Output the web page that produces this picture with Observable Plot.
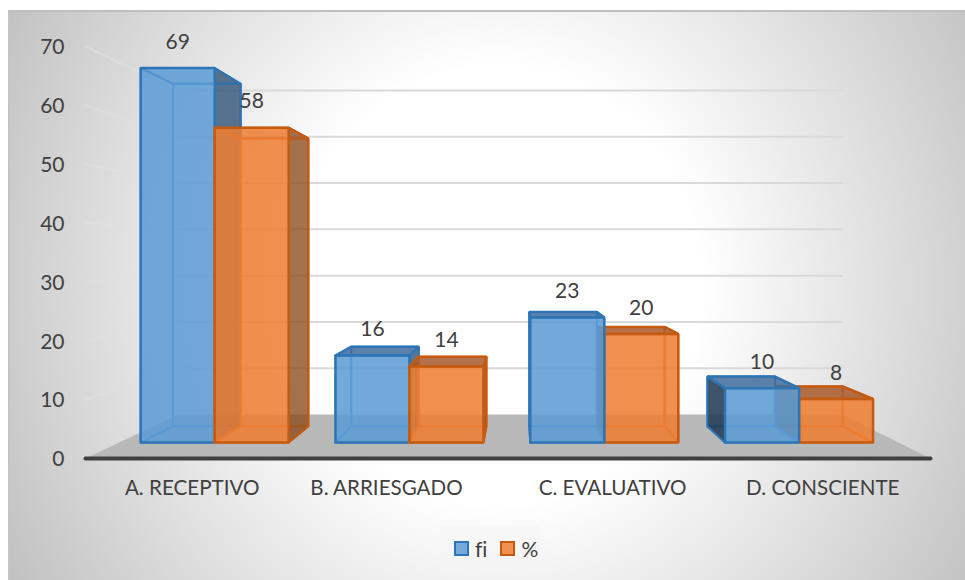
<!DOCTYPE html>
<html>
<head>
<meta charset="utf-8">
<script src="https://cdn.jsdelivr.net/npm/d3@7"></script>
<script src="https://cdn.jsdelivr.net/npm/@observablehq/plot@0.6"></script>
<style>
  html, body { margin: 0; padding: 0; background: #fff; width: 965px; height: 580px; overflow: hidden; }
  #bg { position: absolute; left: 8px; top: 10px; width: 957px; height: 570px; box-sizing: border-box;
        border-top: 2px solid #bfbfbf; border-left: 2px solid #c4c4c4;
        background: radial-gradient(ellipse 580px 620px at 51% 48%, #fff 35%, #bdbdbd 100%); }
  #chart { position: absolute; left: 0; top: 0; width: 965px; height: 580px; font-family: Lato, sans-serif; color: #404040; font-variant-ligatures: none; }
  #chart svg { display: block; background: transparent; }
  #legend { position: absolute; left: 441px; top: 526px; width: 99px; height: 45px; background: rgba(245,245,245,.45);
            display: flex; align-items: center; font-size: 21px; }
  .sw { width: 11px; height: 11px; border: 2px solid; display: inline-block; margin-left: 13px; margin-right: 6px; }
  .sw + span { line-height: 1; }
</style>
</head>
<body>
<div id="bg"></div>
<div id="chart"></div>
<script>
const categories = ["A. RECEPTIVO", "B. ARRIESGADO", "C. EVALUATIVO", "D. CONSCIENTE"];
const fi = [69, 16, 23, 10];
const pct = [58, 14, 20, 8];
const yTicks = [0, 10, 20, 30, 40, 50, 60, 70];
const labelSlots = [0.505, 1.425, 2.495, 3.49];

// Perspective of the box, in data units: everything shrinks toward a vanishing point
const vp = {x: 2.05, y: 35};
const depth = {near: 1, barFront: 0.922, barBack: 0.843, wall: 0.786};
const project = (cat, val, s) => ({x: vp.x + (cat - vp.x) * s, y: vp.y + (val - vp.y) * s});

const palette = {
  fi:  {front: "#5b9bd5", dark: "#2d4f75", leftDark: "#1f3650", top: "#3f6c9c", edge: "#2e75b6", soft: "#4d90d2"},
  pct: {front: "#ed7d31", dark: "#8a4a1c", leftDark: "#8a4a1c", top: "#a8592a", edge: "#c55a11", soft: "#e8762a"}
};

const facePts = [];
let faceId = 0;
function addFace(corners, fill, fillOpacity, stroke, strokeWidth) {
  const id = faceId++;
  for (const [c, v, s] of [...corners, corners[0]]) {
    facePts.push({id, ...project(c, v, s), fill, fillOpacity, stroke, strokeWidth});
  }
}
function addBar(x0, x1, v, col) {
  const F = depth.barFront, B = depth.barBack;
  // back and bottom: edges only
  addFace([[x0,0,B],[x1,0,B],[x1,v,B],[x0,v,B]], "none", 0, col.soft, 2);
  addFace([[x0,0,F],[x1,0,F],[x1,0,B],[x0,0,B]], "none", 0, col.soft, 2);
  // sides
  const leftVisible = x0 > vp.x, rightVisible = x1 < vp.x;
  addFace([[x0,0,F],[x0,v,F],[x0,v,B],[x0,0,B]], leftVisible ? col.leftDark : "none", leftVisible ? .85 : 0, leftVisible ? col.edge : col.soft, 2);
  addFace([[x1,0,F],[x1,v,F],[x1,v,B],[x1,0,B]], rightVisible ? col.dark : "none", rightVisible ? .78 : 0, rightVisible ? col.edge : col.soft, 2);
  // top
  const topVisible = v < vp.y;
  addFace([[x0,v,F],[x1,v,F],[x1,v,B],[x0,v,B]], topVisible ? col.top : "none", topVisible ? .85 : 0, col.edge, topVisible ? 2.5 : 2);
  // front
  addFace([[x0,0,F],[x1,0,F],[x1,v,F],[x0,v,F]], col.front, .86, col.edge, 2.5);
}

const half = 0.38, centerShift = 0.49;
const labels = [];
categories.forEach((name, i) => {
  const c = i + centerShift;
  const blue = () => addBar(c - half, c, fi[i], palette.fi);
  const orange = () => addBar(c, c + half, pct[i], palette.pct);
  if (c < vp.x) { blue(); orange(); } else { orange(); blue(); }
  labels.push({...project(c - half / 2, fi[i], depth.barFront), text: String(fi[i])});
  labels.push({...project(c + half / 2, pct[i], depth.barFront), text: String(pct[i])});
});

// Walls and floor
const gridPts = [];
yTicks.slice(1).forEach((t) => {
  gridPts.push({t, ...project(0, t, depth.wall)}, {t, ...project(4, t, depth.wall)});
});
const sidePts = [];
yTicks.slice(1).forEach((t) => {
  sidePts.push({t, ...project(0, t, depth.near)}, {t, ...project(0, t, depth.wall)});
});
const floorPts = [[0,0,depth.near],[4,0,depth.near],[4,0,depth.wall],[0,0,depth.wall],[0,0,depth.near]]
  .map(([c, v, s]) => project(c, v, s));
const axisPts = [project(0, 0, depth.near), project(4, 0, depth.near)];
const catLabels = categories.map((text, i) => ({x: labelSlots[i], text}));

const plot = Plot.plot({
  width: 965,
  height: 520,
  marginLeft: 85,
  marginRight: 35,
  marginTop: 46,
  marginBottom: 62,
  style: {background: "transparent", overflow: "visible"},
  x: {domain: [0, 4], range: [85, 930], axis: null},
  y: {domain: [0, 70], range: [458, 46], axis: null},
  color: {type: "identity"},
  marks: [
    Plot.line(sidePts, {x: "x", y: "y", z: "t", stroke: "#e2e2e2", strokeWidth: 2, strokeOpacity: 0.5}),
    Plot.line(gridPts, {x: "x", y: "y", z: "t", stroke: "#d9d9d9", strokeWidth: 2}),
    Plot.line(floorPts, {x: "x", y: "y", fill: "#b8b8b8", stroke: "none"}),
    Plot.line(facePts, {x: "x", y: "y", z: "id", fill: "fill", fillOpacity: "fillOpacity", stroke: "stroke", strokeWidth: "strokeWidth", strokeLinejoin: "miter"}),
    Plot.line(axisPts, {x: "x", y: "y", stroke: "#404040", strokeWidth: 4, strokeLinecap: "round"}),
    Plot.axisY(yTicks, {tickSize: 0, tickPadding: 21, dy: 1, fontSize: 21, fill: "#404040", fontFamily: "Lato, sans-serif", label: null}),
    Plot.text(catLabels, {x: "x", y: () => 0, dy: 30, text: "text", fontSize: 20.6, fill: "#404040", fontFamily: "Lato, sans-serif"}),
    Plot.text(labels, {x: "x", y: "y", dy: -26, text: "text", fontSize: 21, fill: "#404040", fontFamily: "Lato, sans-serif"})
  ]
});
const chart = document.getElementById("chart");
chart.append(plot);
const legend = document.createElement("div");
legend.id = "legend";
legend.innerHTML =
  '<i class="sw" style="background:#75aadb;border-color:#2e75b6"></i><span>fi</span>' +
  '<i class="sw" style="background:#f08f50;border-color:#c55a11"></i><span>%</span>';
chart.append(legend);
</script>
</body>
</html>
